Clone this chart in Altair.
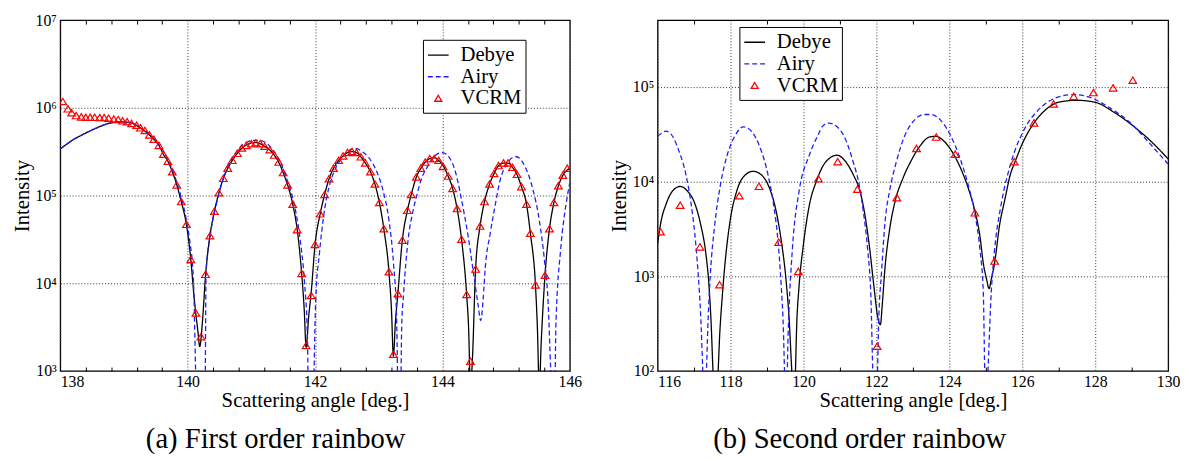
import altair as alt
import pandas as pd

SERIES = ["Debye", "Airy", "VCRM"]
COLORS = ["#000000", "#1e1eff", "#ff0000"]
DASHES = [[1, 0], [5, 3], [1, 0]]
SHAPES = ["stroke", "stroke", "M0,-0.30L0.34,0.27L-0.34,0.27Z"]
FONT = "Liberation Serif"

# ---------------- (a) First order rainbow: angle [deg], log10(intensity)
a_debye_deg = [138.00, 138.10, 138.20, 138.30, 138.45, 138.60, 138.75, 138.92, 139.10, 139.26,
               139.40, 139.47, 139.55,
               139.62, 139.69, 139.76, 139.83, 139.90, 139.98, 140.05, 140.10, 140.16, 140.19,
               140.23, 140.28, 140.35, 140.42, 140.49, 140.56, 140.63, 140.70, 140.78, 140.85,
               140.92, 141.00, 141.07, 141.14, 141.21, 141.29, 141.36, 141.43, 141.50, 141.57,
               141.65, 141.72, 141.79, 141.83, 141.86, 141.90, 141.94, 142.00, 142.08, 142.15,
               142.22, 142.29, 142.37, 142.44, 142.51, 142.58, 142.65, 142.72, 142.79, 142.87,
               142.94, 143.01, 143.08, 143.16, 143.20, 143.23, 143.26, 143.30, 143.37, 143.45,
               143.51, 143.59, 143.66, 143.73, 143.80, 143.87, 143.94, 144.01, 144.09, 144.16,
               144.23, 144.30, 144.38, 144.41, 144.44, 144.47, 144.52, 144.59, 144.66, 144.74,
               144.81, 144.88, 144.96, 145.03, 145.10, 145.17, 145.24, 145.32, 145.38, 145.46,
               145.49, 145.52, 145.55, 145.61, 145.68, 145.75, 145.82, 145.89, 146.00]
a_debye_log = [5.53, 5.585, 5.635, 5.675, 5.73, 5.78, 5.82, 5.84, 5.83, 5.77,
               5.69, 5.64, 5.57,
               5.47, 5.39, 5.27, 5.12, 4.93, 4.67, 4.27, 3.85, 3.46, 3.28,
               3.54, 4.08, 4.54, 4.82, 5.03, 5.195, 5.31, 5.40, 5.48, 5.54,
               5.575, 5.60, 5.605, 5.59, 5.56, 5.52, 5.46, 5.38, 5.26, 5.12,
               4.90, 4.61, 4.11, 3.70, 3.27, 3.62, 3.90, 4.44, 4.79, 5.01,
               5.19, 5.31, 5.40, 5.45, 5.49, 5.50, 5.49, 5.44, 5.37, 5.27,
               5.13, 4.92, 4.62, 4.13, 3.69, 3.17, 3.54, 3.88, 4.49, 4.83,
               5.01, 5.21, 5.31, 5.38, 5.42, 5.43, 5.40, 5.34, 5.22, 5.08,
               4.85, 4.50, 3.87, 3.50, 2.80, 3.13, 4.16, 4.65, 4.93, 5.13,
               5.25, 5.34, 5.37, 5.37, 5.32, 5.24, 5.10, 4.90, 4.57, 3.98,
               3.50, 2.80, 3.32, 4.09, 4.62, 4.92, 5.11, 5.23, 5.31]

a_airy_deg = [138.00, 138.10, 138.20, 138.30, 138.45, 138.60, 138.75, 138.92, 139.10, 139.26,
              139.40, 139.55, 139.69,
              139.83, 139.98, 140.03, 140.09, 140.15, 140.27, 140.29, 140.36, 140.45, 140.55,
              140.65, 140.75, 140.85, 140.95, 141.05, 141.14, 141.25, 141.35, 141.45, 141.55,
              141.65, 141.76, 141.83, 141.88, 141.90, 141.96, 142.01, 142.07, 142.14, 142.22,
              142.32, 142.43, 142.53, 142.63, 142.74, 142.84, 142.97, 143.07, 143.16, 143.23,
              143.28, 143.31, 143.34, 143.36, 143.39, 143.46, 143.54, 143.60, 143.68, 143.75,
              143.85, 144.00, 144.10, 144.20, 144.30, 144.40, 144.50, 144.56, 144.60, 144.64,
              144.67, 144.75, 144.83, 144.90, 145.01, 145.15, 145.29, 145.42, 145.52, 145.60,
              145.66, 145.70, 145.73, 145.76, 145.78, 145.86, 145.94, 146.00]
a_airy_log = [5.53, 5.585, 5.635, 5.675, 5.73, 5.78, 5.82, 5.84, 5.83, 5.77,
              5.70, 5.58, 5.41,
              5.15, 4.72, 4.50, 4.05, 2.50, 2.50, 4.13, 4.57, 4.90, 5.17,
              5.36, 5.48, 5.57, 5.615, 5.63, 5.627, 5.59, 5.51, 5.39, 5.20,
              4.97, 4.53, 4.05, 3.40, 2.50, 2.50, 3.80, 4.35, 4.79, 5.10,
              5.306, 5.434, 5.51, 5.538, 5.50, 5.434, 5.27, 5.05, 4.72, 4.24,
              3.61, 2.50, 2.50, 3.50, 3.88, 4.49, 4.83, 5.01, 5.21, 5.31,
              5.43, 5.49, 5.44, 5.28, 4.95, 4.55, 4.05, 3.75, 3.575, 3.83,
              4.16, 4.57, 4.90, 5.16, 5.36, 5.445, 5.34, 5.07, 4.72, 4.27,
              3.76, 3.00, 2.50, 2.50, 3.50, 4.42, 4.90, 5.15]

a_vcrm_deg = [138.04, 138.12, 138.18, 138.25, 138.33, 138.40, 138.47, 138.54, 138.62, 138.69,
              138.76, 138.84, 138.91, 138.98, 139.05, 139.12, 139.20, 139.26, 139.33, 139.40,
              139.47, 139.55, 139.62, 139.69, 139.76, 139.83, 139.90, 139.98, 140.05, 140.13,
              140.21, 140.28, 140.35, 140.42, 140.49, 140.56, 140.63, 140.70, 140.78, 140.85,
              140.92, 141.00, 141.07, 141.14, 141.21, 141.29, 141.36, 141.43, 141.50, 141.57,
              141.65, 141.72, 141.79, 141.86, 141.94, 142.00, 142.08, 142.15, 142.22, 142.29,
              142.37, 142.44, 142.51, 142.58, 142.65, 142.72, 142.79, 142.87, 142.94, 143.01,
              143.08, 143.16, 143.23, 143.30, 143.37, 143.45, 143.51, 143.59, 143.66, 143.73,
              143.80, 143.87, 143.94, 144.01, 144.09, 144.16, 144.23, 144.30, 144.38, 144.44,
              144.52, 144.59, 144.66, 144.74, 144.81, 144.88, 144.96, 145.03, 145.10, 145.17,
              145.24, 145.32, 145.38, 145.46, 145.61, 145.68, 145.75, 145.82, 145.89, 145.96]
a_vcrm_log = [6.07, 5.987, 5.943, 5.91, 5.895, 5.89, 5.89, 5.89, 5.887, 5.887,
              5.88, 5.87, 5.865, 5.85, 5.84, 5.82, 5.80, 5.77, 5.74, 5.69,
              5.64, 5.57, 5.47, 5.39, 5.27, 5.12, 4.93, 4.67, 4.27, 3.66,
              3.39, 4.10, 4.54, 4.82, 5.03, 5.195, 5.31, 5.40, 5.48, 5.54,
              5.57, 5.59, 5.60, 5.59, 5.56, 5.52, 5.46, 5.38, 5.26, 5.12,
              4.90, 4.61, 4.11, 3.29, 3.86, 4.44, 4.79, 5.01, 5.19, 5.31,
              5.40, 5.45, 5.49, 5.50, 5.49, 5.44, 5.37, 5.27, 5.13, 4.92,
              4.62, 4.13, 3.19, 3.88, 4.49, 4.83, 5.01, 5.21, 5.31, 5.38,
              5.42, 5.42, 5.40, 5.33, 5.22, 5.08, 4.85, 4.50, 3.87, 3.11,
              4.16, 4.65, 4.93, 5.13, 5.25, 5.34, 5.37, 5.37, 5.32, 5.24,
              5.10, 4.90, 4.57, 3.98, 4.09, 4.62, 4.92, 5.11, 5.23, 5.31]

# ---------------- (b) Second order rainbow
b_debye_deg = [116.00, 116.10, 116.23, 116.37, 116.62, 116.82, 117.00, 117.18, 117.32, 117.41,
               117.47, 117.52, 117.58, 117.66, 117.70, 117.77, 117.86, 117.99, 118.17, 118.35,
               118.62, 118.85, 119.07, 119.25, 119.39, 119.52, 119.61, 119.68, 119.73, 119.78,
               119.81, 119.88, 119.99, 120.15, 120.38, 120.51, 120.69, 120.92, 121.14, 121.37,
               121.55, 121.68, 121.81, 121.93, 122.04, 122.11, 122.16, 122.24, 122.36, 122.51,
               122.72, 122.95, 123.22, 123.44, 123.62, 123.85, 124.07, 124.30, 124.52, 124.70,
               124.84, 124.93, 125.02, 125.09, 125.15, 125.24, 125.38, 125.51, 125.69, 125.78,
               126.01, 126.32, 126.64, 127.00, 127.49, 127.99, 128.53, 129.07, 129.52, 130.00]
b_debye_log = [3.35, 3.59, 3.76, 3.88, 3.95, 3.90, 3.79, 3.55, 3.25, 2.90,
               2.49, 2.00, 1.70, 2.00, 2.36, 2.77, 3.18, 3.59, 3.90, 4.05,
               4.11, 4.07, 3.93, 3.69, 3.38, 2.97, 2.53, 2.00, 1.70, 2.00,
               2.43, 2.90, 3.31, 3.73, 4.03, 4.15, 4.24, 4.28, 4.22, 4.07,
               3.90, 3.66, 3.31, 2.90, 2.56, 2.49, 2.70, 3.11, 3.49, 3.79,
               4.03, 4.22, 4.39, 4.47, 4.48, 4.43, 4.32, 4.15, 3.93, 3.69,
               3.42, 3.14, 2.97, 2.87, 2.97, 3.14, 3.55, 3.79, 4.10, 4.19,
               4.41, 4.62, 4.76, 4.84, 4.86, 4.84, 4.73, 4.58, 4.43, 4.24]

b_airy_deg = [116.00, 116.10, 116.23, 116.41, 116.59, 116.78, 116.91, 117.02, 117.11, 117.18,
              117.24, 117.29, 117.34, 117.38, 117.45, 117.56, 117.72, 117.90, 118.13, 118.35,
              118.58, 118.80, 119.03, 119.18, 119.30, 119.39, 119.45, 119.48, 119.52, 119.58,
              119.70, 119.88, 120.15, 120.42, 120.51, 120.69, 120.92, 121.14, 121.37, 121.51,
              121.64, 121.76, 121.85, 121.90, 121.96, 122.03, 122.06, 122.14, 122.24, 122.36,
              122.54, 122.77, 123.04, 123.31, 123.49, 123.76, 124.03, 124.30, 124.52, 124.70,
              124.84, 124.93, 124.97, 125.01, 125.06, 125.15, 125.24, 125.42, 125.69, 126.05,
              126.50, 126.95, 127.41, 127.86, 128.40, 128.94, 129.48, 129.99]
b_airy_log = [4.48, 4.51, 4.535, 4.48, 4.32, 4.07, 3.79, 3.45, 3.04, 2.60,
              2.00, 1.50, 2.00, 2.49, 3.04, 3.52, 3.96, 4.27, 4.49, 4.58,
              4.53, 4.37, 4.07, 3.76, 3.38, 2.90, 2.43, 2.00, 1.50, 2.40,
              3.31, 3.90, 4.27, 4.51, 4.58, 4.62, 4.58, 4.46, 4.20, 4.00,
              3.69, 3.28, 2.77, 2.00, 1.50, 2.00, 2.49, 3.04, 3.59, 3.90,
              4.20, 4.48, 4.65, 4.71, 4.71, 4.65, 4.49, 4.24, 3.96, 3.66,
              3.28, 2.84, 2.00, 1.50, 2.00, 2.84, 3.28, 3.76, 4.20, 4.55,
              4.78, 4.89, 4.92, 4.89, 4.78, 4.63, 4.41, 4.19]

b_vcrm_deg = [116.08, 116.62, 117.16, 117.70, 118.24, 118.78, 119.32, 119.86, 120.41, 120.94,
              121.48, 122.02, 122.56, 123.10, 123.64, 124.16, 124.70, 125.24, 125.78, 126.32,
              126.86, 127.41, 127.95, 128.49, 129.03]
b_vcrm_log = [3.47, 3.75, 3.31, 2.91, 3.85, 3.95, 3.36, 3.05, 4.03, 4.21,
              3.92, 2.26, 3.83, 4.35, 4.47, 4.29, 3.67, 3.16, 4.21, 4.62,
              4.82, 4.90, 4.94, 4.99, 5.07]

# axes
a_x_major = [138, 140, 142, 144, 146]
a_x_minor = [138.4, 138.8, 139.2, 139.6, 140.4, 140.8, 141.2, 141.6, 142.4, 142.8,
             143.2, 143.6, 144.4, 144.8, 145.2, 145.6]
a_y_ticks = [1e3, 1e4, 1e5, 1e6, 1e7]
b_x_major = [116, 118, 120, 122, 124, 126, 128, 130]
b_x_minor = [117, 119, 121, 123, 125, 127, 129]
b_y_ticks = [1e2, 1e3, 1e4, 1e5]

SUP = {2: "²", 3: "³", 4: "⁴", 5: "⁵", 6: "⁶", 7: "⁷"}


def frame(deg, lg, name):
    return pd.DataFrame({"angle": deg, "intensity": [10 ** v for v in lg], "series": name})


def label_expr(ticks):
    expr = "''"
    for t in ticks:
        e = len(str(int(t))) - 1
        expr = f"abs(datum.value - {t}) < {t * 0.01} ? '10{SUP[e]}' : " + expr
    return expr


def panel(debye, airy, vcrm, xdom, ydom, major, minor, yticks, first, lx, ly, caption, cdx, w, h):
    xs = alt.Scale(domain=xdom, nice=False, zero=False)
    ys = alt.Scale(type="log", domain=ydom, nice=False)
    xmain = alt.Axis(values=major, grid=True, gridDash=[1, 2], gridColor="#333333",
                     gridWidth=1, ticks=False, domain=False, labelFont=FONT,
                     labelFontSize=16, labelPadding=3, labelColor="black",
                     labelAlign={"condition": {"test": f"datum.value == {first}", "value": "left"},
                                 "value": "center"},
                     title="Scattering angle [deg.]", titleFont=FONT, titleFontSize=21,
                     titleFontWeight="normal", titlePadding=0, titleColor="black")
    xtop = alt.Axis(orient="top", values=minor, labels=False, domain=False, grid=False,
                    ticks=True, tickSize=4, tickColor="black", offset=-4, title=None)
    xbot = alt.Axis(orient="bottom", values=minor, labels=False, domain=False, grid=False,
                    ticks=True, tickSize=4, tickColor="black", offset=-4, title=None)
    yax = alt.Axis(values=yticks, labelExpr=label_expr(yticks), grid=True, gridDash=[1, 2],
                   gridColor="#333333", gridWidth=1, ticks=False, domain=False,
                   labelFont=FONT, labelFontSize=16, labelPadding=4, labelColor="black",
                   title="Intensity", titleFont=FONT, titleFontSize=21,
                   titleFontWeight="normal", titlePadding=3, titleColor="black")
    leg = alt.Legend(title=None, orient="none", legendX=lx, legendY=ly, strokeColor="black",
                     fillColor="white", padding=4, labelFont=FONT, labelFontSize=21,
                     labelColor="black", labelOffset=11, rowPadding=0, symbolSize=441,
                     symbolStrokeWidth=1.3, labelLimit=200)
    col = alt.Color("series:N", scale=alt.Scale(domain=SERIES, range=COLORS), legend=leg)
    dash = alt.StrokeDash("series:N", scale=alt.Scale(domain=SERIES, range=DASHES), legend=leg)
    shp = alt.Shape("series:N", scale=alt.Scale(domain=SERIES, range=SHAPES), legend=leg)

    l1 = alt.Chart(debye).mark_line(strokeWidth=1.3, clip=True, interpolate="monotone").encode(
        x=alt.X("angle:Q", scale=xs, axis=xmain),
        y=alt.Y("intensity:Q", scale=ys, axis=yax),
        color=col, strokeDash=dash)
    l2 = alt.Chart(airy).mark_line(strokeWidth=1.3, clip=True, interpolate="monotone").encode(
        x=alt.X("angle:Q", scale=xs, axis=xtop),
        y=alt.Y("intensity:Q", scale=ys, axis=yax),
        color=col, strokeDash=dash)
    l3 = alt.Chart(vcrm).mark_point(filled=False, size=520, strokeWidth=1.2, clip=True,
                                    opacity=1).encode(
        x=alt.X("angle:Q", scale=xs, axis=xbot),
        y=alt.Y("intensity:Q", scale=ys, axis=yax),
        color=col, shape=shp)
    return alt.layer(l1, l2, l3).resolve_axis(x="independent").properties(
        width=w, height=h,
        title=alt.TitleParams(caption, orient="bottom", anchor="middle", font=FONT,
                              fontSize=29, fontWeight="normal", color="black", offset=15,
                              dx=cdx))


pa = panel(frame(a_debye_deg, a_debye_log, "Debye"), frame(a_airy_deg, a_airy_log, "Airy"),
           frame(a_vcrm_deg, a_vcrm_log, "VCRM"), [138, 146], [1e3, 1e7], a_x_major, a_x_minor,
           a_y_ticks, 138, 368, 20, "(a) First order rainbow", -40, 517, 356)
pb = panel(frame(b_debye_deg, b_debye_log, "Debye"), frame(b_airy_deg, b_airy_log, "Airy"),
           frame(b_vcrm_deg, b_vcrm_log, "VCRM"), [116, 130], [1e2, 5.1e5], b_x_major, b_x_minor,
           b_y_ticks, 116, 83, 7, "(b) Second order rainbow", -54, 518, 356)

chart = alt.hconcat(pa, pb, spacing=89, bounds="flush").resolve_scale(
    color="independent", strokeDash="independent", shape="independent").resolve_legend(
    color="independent", strokeDash="independent", shape="independent").configure(
    font=FONT).configure_axis(labelFont=FONT, titleFont=FONT).configure_legend(
    labelFont=FONT).configure_title(font=FONT).configure_view(
    stroke="black", strokeWidth=1.3).properties(
    padding={"left": 2, "top": 0, "right": 0, "bottom": 0}, background="white")

chart.save("out.html", embed_options={"renderer": "svg", "actions": False})
